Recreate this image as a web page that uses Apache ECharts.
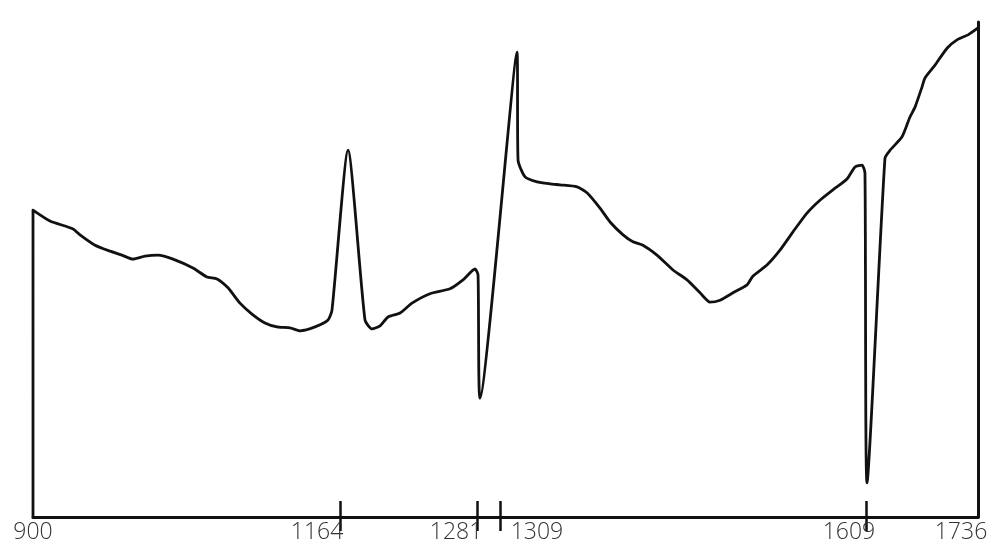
<!DOCTYPE html>
<html>
<head>
<meta charset="utf-8">
<script src="https://cdn.jsdelivr.net/npm/echarts@6/dist/echarts.min.js"></script>
<style>html,body{margin:0;padding:0;background:#fff}#c{width:994px;height:554px}</style>
</head>
<body>
<div id="c"></div>
<script>
// Trace (x: position along the drawn scale, y: relative signal 0-100)
const traceX = [900, 900, 915.0, 935.4, 941.6, 954.9, 968.1, 978.7, 988.5, 999.1, 1010.6, 1023.9, 1041.5, 1053.9, 1062.8, 1072.5, 1083.1, 1093.7, 1105.2, 1115.9, 1127.4, 1136.2, 1149.5, 1161.0, 1164.5, 1178.7, 1193.7, 1199.9, 1207.0, 1214.1, 1224.7, 1235.3, 1251.2, 1268.9, 1280.4, 1291.0, 1293.7, 1295.4, 1328.2, 1329.1, 1335.3, 1345.9, 1357.4, 1366.2, 1381.3, 1390.1, 1401.6, 1410.5, 1422.0, 1430.8, 1439.6, 1452.0, 1466.2, 1478.6, 1490.1, 1498.9, 1507.8, 1519.3, 1531.7, 1537.0, 1549.3, 1560.8, 1572.3, 1584.7, 1596.2, 1607.7, 1620.1, 1627.2, 1633.4, 1636.0, 1637.8, 1653.7, 1658.2, 1668.8, 1675.8, 1680.3, 1686.5, 1689.1, 1698.0, 1708.6, 1717.4, 1727.2, 1736];
const traceY = [0, 62.0, 59.8, 58.2, 57.0, 54.9, 53.7, 52.9, 52.1, 52.7, 52.9, 52.1, 50.3, 48.5, 48.1, 46.3, 43.2, 41.0, 39.2, 38.4, 38.2, 37.6, 38.4, 39.8, 41.8, 74.1, 39.8, 38.0, 38.6, 40.4, 41.2, 43.2, 45.1, 46.1, 47.9, 50.1, 48.9, 24.0, 93.9, 72.1, 68.7, 67.7, 67.3, 67.1, 66.7, 65.5, 62.4, 59.6, 57.0, 55.6, 54.9, 52.9, 49.9, 47.9, 45.3, 43.4, 43.8, 45.3, 46.9, 48.7, 50.9, 53.9, 57.6, 61.4, 64.0, 66.1, 68.3, 70.7, 71.1, 69.5, 6.9, 72.5, 74.1, 76.8, 80.8, 82.8, 86.9, 88.7, 91.3, 94.7, 96.4, 97.4, 98.8];

// Marked positions on the axis and the text written at them
const markAt = [900, 1171.6, 1292.8, 1313.1, 1636.9, 1736];
const markLabels = ['900', '1164', '1281', '1309', '1609', '1736'];
const tickAt = [1171.6, 1292.8, 1313.1, 1636.9];

// label nudges (layout only)
const labelShift = [0, -23, -21, 37, -17, -17];

const rich = {};
labelShift.forEach((s, i) => {
  rich['l' + i] = {
    fontFamily: 'Open Sans', fontSize: 23, fontWeight: 300, color: '#333',
    padding: s < 0 ? [0, -2 * s, 0, 0] : [0, 0, 0, 2 * s]
  };
});

const data = traceX.map((x, i) => [x, traceY[i]]);
const chart = echarts.init(document.getElementById('c'), null, {renderer: 'canvas'});
chart.setOption({
  animation: false,
  backgroundColor: '#fff',
  grid: {left: 33, right: 16, top: 22, bottom: 37, containLabel: false},
  xAxis: [{
    type: 'value', min: 900, max: 1736, position: 'bottom',
    axisLine: {show: true, lineStyle: {color: '#111', width: 3}},
    axisTick: {show: false},
    axisLabel: {
      show: true, customValues: markAt, margin: 4,
      formatter: function (v) {
        let idx = 0, best = 1e9;
        markAt.forEach((m, i) => { const d = Math.abs(m - v); if (d < best) { best = d; idx = i; } });
        return '{l' + idx + '|' + markLabels[idx] + '}';
      },
      rich: rich
    },
    splitLine: {show: false}
  }, {
    type: 'value', min: 900, max: 1736, position: 'bottom', offset: 14,
    axisLine: {show: false},
    axisTick: {show: true, customValues: tickAt, length: 30, inside: true, lineStyle: {color: '#111', width: 2.5}},
    axisLabel: {show: false},
    splitLine: {show: false}
  }],
  yAxis: {
    type: 'value', min: 0, max: 100, position: 'right',
    axisLine: {show: true, lineStyle: {color: '#111', width: 3}},
    axisTick: {show: false}, axisLabel: {show: false}, splitLine: {show: false}
  },
  series: [{
    type: 'line', xAxisIndex: 0, data: data, showSymbol: false, symbol: 'none',
    smooth: 0.2,
    lineStyle: {color: '#111', width: 2.8, join: 'round', cap: 'round'}
  }]
});
</script>
</body>
</html>
